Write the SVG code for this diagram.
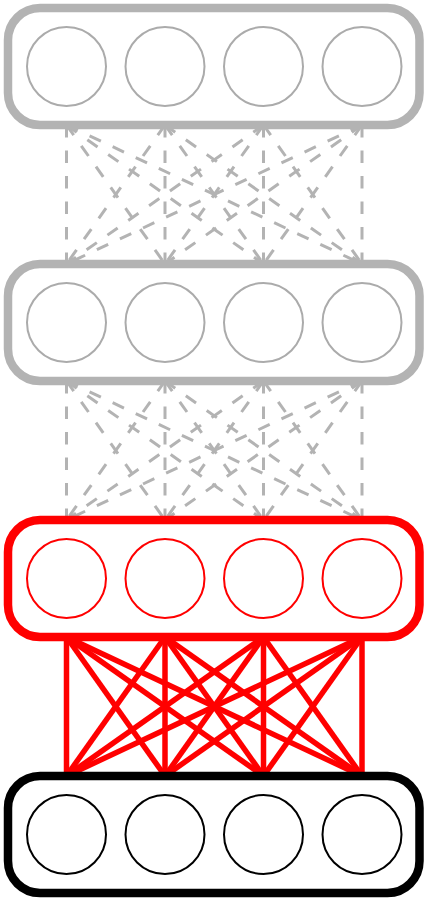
<svg xmlns="http://www.w3.org/2000/svg" width="429" height="902" viewBox="0 0 429 902">
<style>
.box{fill:#fff;stroke-width:8.5}
.c{fill:#fff;stroke-width:2}
.gray .box{stroke:#b3b3b3}
.gray .c{stroke:#ababab}
.red .box,.red .c{stroke:#ff0000}
.black .box,.black .c{stroke:#000}
.dash line{stroke:#b3b3b3;stroke-width:3;stroke-dasharray:12.5 13;fill:none}
.solid line{stroke:#ff0000;stroke-width:5.5;fill:none}
</style>
<g id="connectors">
<g class="dash">
<line x1="66.5" y1="125" x2="66.5" y2="264"/><line x1="66.5" y1="125" x2="165" y2="264"/><line x1="66.5" y1="125" x2="263.5" y2="264"/><line x1="66.5" y1="125" x2="362" y2="264"/>
<line x1="165" y1="125" x2="66.5" y2="264"/><line x1="165" y1="125" x2="165" y2="264"/><line x1="165" y1="125" x2="263.5" y2="264"/><line x1="165" y1="125" x2="362" y2="264"/>
<line x1="263.5" y1="125" x2="66.5" y2="264"/><line x1="263.5" y1="125" x2="165" y2="264"/><line x1="263.5" y1="125" x2="263.5" y2="264"/><line x1="263.5" y1="125" x2="362" y2="264"/>
<line x1="362" y1="125" x2="66.5" y2="264"/><line x1="362" y1="125" x2="165" y2="264"/><line x1="362" y1="125" x2="263.5" y2="264"/><line x1="362" y1="125" x2="362" y2="264"/>
</g>
<g class="dash">
<line x1="66.5" y1="381" x2="66.5" y2="520"/><line x1="66.5" y1="381" x2="165" y2="520"/><line x1="66.5" y1="381" x2="263.5" y2="520"/><line x1="66.5" y1="381" x2="362" y2="520"/>
<line x1="165" y1="381" x2="66.5" y2="520"/><line x1="165" y1="381" x2="165" y2="520"/><line x1="165" y1="381" x2="263.5" y2="520"/><line x1="165" y1="381" x2="362" y2="520"/>
<line x1="263.5" y1="381" x2="66.5" y2="520"/><line x1="263.5" y1="381" x2="165" y2="520"/><line x1="263.5" y1="381" x2="263.5" y2="520"/><line x1="263.5" y1="381" x2="362" y2="520"/>
<line x1="362" y1="381" x2="66.5" y2="520"/><line x1="362" y1="381" x2="165" y2="520"/><line x1="362" y1="381" x2="263.5" y2="520"/><line x1="362" y1="381" x2="362" y2="520"/>
</g>
<g class="solid">
<line x1="66.5" y1="637" x2="66.5" y2="776"/><line x1="66.5" y1="637" x2="165" y2="776"/><line x1="66.5" y1="637" x2="263.5" y2="776"/><line x1="66.5" y1="637" x2="362" y2="776"/>
<line x1="165" y1="637" x2="66.5" y2="776"/><line x1="165" y1="637" x2="165" y2="776"/><line x1="165" y1="637" x2="263.5" y2="776"/><line x1="165" y1="637" x2="362" y2="776"/>
<line x1="263.5" y1="637" x2="66.5" y2="776"/><line x1="263.5" y1="637" x2="165" y2="776"/><line x1="263.5" y1="637" x2="263.5" y2="776"/><line x1="263.5" y1="637" x2="362" y2="776"/>
<line x1="362" y1="637" x2="66.5" y2="776"/><line x1="362" y1="637" x2="165" y2="776"/><line x1="362" y1="637" x2="263.5" y2="776"/><line x1="362" y1="637" x2="362" y2="776"/>
</g>
</g>
<g id="layer4" class="gray">
<rect class="box" x="8" y="8" width="411.5" height="117" rx="32"/>
<circle class="c" cx="66.5" cy="66.5" r="39.5"/><circle class="c" cx="165" cy="66.5" r="39.5"/><circle class="c" cx="263.5" cy="66.5" r="39.5"/><circle class="c" cx="362" cy="66.5" r="39.5"/>
</g>
<g id="layer3" class="gray">
<rect class="box" x="8" y="264" width="411.5" height="117" rx="32"/>
<circle class="c" cx="66.5" cy="322.5" r="39.5"/><circle class="c" cx="165" cy="322.5" r="39.5"/><circle class="c" cx="263.5" cy="322.5" r="39.5"/><circle class="c" cx="362" cy="322.5" r="39.5"/>
</g>
<g id="layer2" class="red">
<rect class="box" x="8" y="520" width="411.5" height="117" rx="32"/>
<circle class="c" cx="66.5" cy="578.5" r="39.5"/><circle class="c" cx="165" cy="578.5" r="39.5"/><circle class="c" cx="263.5" cy="578.5" r="39.5"/><circle class="c" cx="362" cy="578.5" r="39.5"/>
</g>
<g id="layer1" class="black">
<rect class="box" x="8" y="776" width="411.5" height="117" rx="32"/>
<circle class="c" cx="66.5" cy="834.5" r="39.5"/><circle class="c" cx="165" cy="834.5" r="39.5"/><circle class="c" cx="263.5" cy="834.5" r="39.5"/><circle class="c" cx="362" cy="834.5" r="39.5"/>
</g>
</svg>
